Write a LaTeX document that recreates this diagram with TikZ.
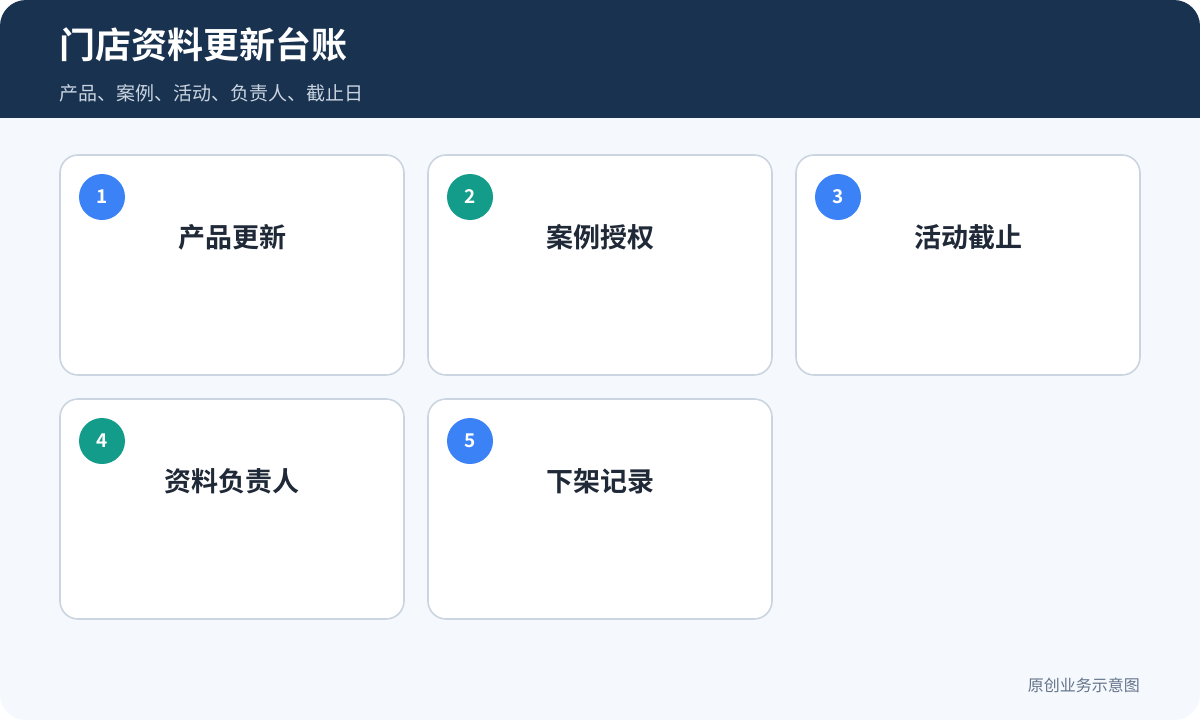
\documentclass[tikz,border=0pt]{standalone}
\usepackage{fontspec}
\setmainfont{Noto Sans CJK SC}
\newfontfamily\cjkbold{Noto Sans CJK SC Bold}
\usetikzlibrary{positioning}
\definecolor{hdr}{HTML}{18324F}
\definecolor{bgc}{HTML}{F5F8FC}
\definecolor{bord}{HTML}{CBD5E1}
\definecolor{blueb}{HTML}{3B82F6}
\definecolor{tealb}{HTML}{129C89}
\definecolor{ttl}{HTML}{1F2937}
\definecolor{subt}{HTML}{CBD5E1}
\definecolor{foot}{HTML}{64748B}
\tikzset{
  card/.style={draw=bord, line width=1.6pt, fill=white, rounded corners=18pt, minimum width=344pt, minimum height=220pt, inner sep=0pt},
  badge/.style={circle, minimum size=46pt, inner sep=0pt, text=white, font=\cjkbold\fontsize{19}{19}\selectfont},
  cardtitle/.style={text=ttl, font=\cjkbold\fontsize{27}{27}\selectfont, inner sep=0pt},
}
\begin{document}
\begin{tikzpicture}[x=1pt,y=-1pt]
\useasboundingbox (0,0) rectangle (1200,720);
\fill[white] (0,0) rectangle (1200,720);
\fill[bgc, rounded corners=26pt] (0,0) rectangle (1200,720);
\begin{scope}
\clip[rounded corners=26pt] (0,0) rectangle (1200,720);
\fill[hdr] (0,0) rectangle (1200,118);
\end{scope}
\node[anchor=west, text=white, font=\cjkbold\fontsize{36}{36}\selectfont, inner sep=0pt] (title) at (59,45) {门店资料更新台账};
\node[anchor=west, text=subt, font=\fontsize{19}{19}\selectfont, inner sep=0pt] (sub) at (59,93) {产品、案例、活动、负责人、截止日};

\node[card] (c1) at (232,265) {};
\node[card] (c2) at (600,265) {};
\node[card] (c3) at (968,265) {};
\node[card] (c4) at (232,509) {};
\node[card] (c5) at (600,509) {};

\node[badge, fill=blueb] (b1) at (102,197) {1};
\node[badge, fill=tealb] (b2) at (470,197) {2};
\node[badge, fill=blueb] (b3) at (838,197) {3};
\node[badge, fill=tealb] (b4) at (102,441) {4};
\node[badge, fill=blueb] (b5) at (470,441) {5};

\node[cardtitle] (t1) at (232,237) {产品更新};
\node[cardtitle] (t2) at (600,237) {案例授权};
\node[cardtitle] (t3) at (968,237) {活动截止};
\node[cardtitle] (t4) at (232,481) {资料负责人};
\node[cardtitle] (t5) at (600,481) {下架记录};

\node[anchor=east, text=foot, font=\fontsize{16}{16}\selectfont, inner sep=0pt] (ft) at (1140,685) {原创业务示意图};
\end{tikzpicture}
\end{document}
